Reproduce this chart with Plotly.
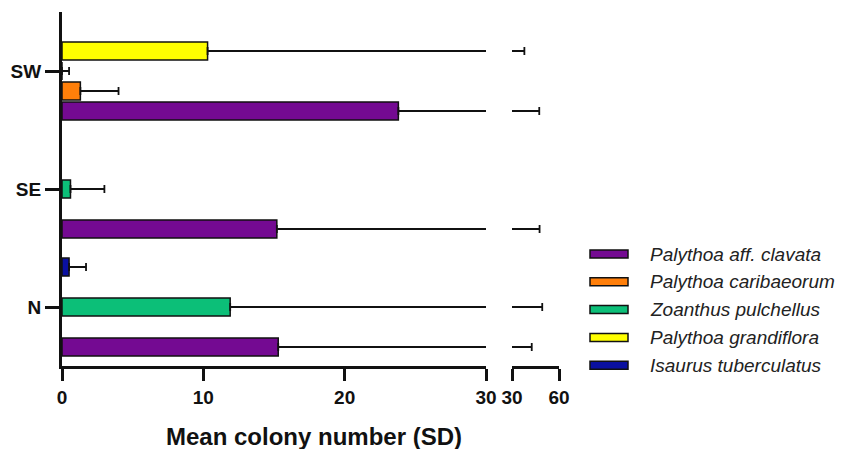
import plotly.graph_objects as go

sites = ["N", "SE", "SW"]
species = ["Palythoa aff. clavata", "Palythoa caribaeorum", "Zoanthus pulchellus",
           "Palythoa grandiflora", "Isaurus tuberculatus"]
colors = ["#740A92", "#FF7F0A", "#0CBF78", "#FFFF00", "#0A10A0"]

# mean colony number per site (N, SE, SW); None = not recorded
clavata_mean = [15.3, 15.2, 23.8]
clavata_sd = [27.3, 32.4, 23.6]
caribaeorum_mean = [None, None, 1.3]
caribaeorum_sd = [None, None, 2.7]
pulchellus_mean = [11.9, 0.6, 0.0]
pulchellus_sd = [37.4, 2.4, 0.5]
grandiflora_mean = [None, None, 10.3]
grandiflora_sd = [None, None, 27.6]
isaurus_mean = [0.5, None, None]
isaurus_sd = [1.2, None, None]

means = [clavata_mean, caribaeorum_mean, pulchellus_mean, grandiflora_mean, isaurus_mean]
sds = [clavata_sd, caribaeorum_sd, pulchellus_sd, grandiflora_sd, isaurus_sd]

x_ticks_left = [0, 10, 20, 30]
x_ticks_right = [30, 60]

W, H = 842, 449
FONT = "Liberation Sans, Arial, sans-serif"
INK = "#111111"

fig = go.Figure()
for xa in ["x", "x2"]:
    for name, col, m, s in zip(species, colors, means, sds):
        fig.add_trace(go.Bar(
            y=sites, x=m, orientation="h", name=name,
            marker=dict(color=col, line=dict(color=INK, width=1.5)),
            error_x=dict(type="data", array=[v if v is not None else 0 for v in s],
                         arrayminus=[0, 0, 0], symmetric=False,
                         color=INK, thickness=1.8, width=4),
            xaxis=xa, yaxis="y", showlegend=False,
        ))

axis_common = dict(showline=True, linecolor=INK, linewidth=3, ticks="outside",
                   ticklen=12, tickwidth=3, tickcolor=INK, showgrid=False,
                   zeroline=False, automargin=False,
                   tickfont=dict(family=FONT, size=19, color=INK, weight="bold"))

fig.update_layout(
    width=W, height=H, margin=dict(l=0, r=0, t=0, b=0),
    paper_bgcolor="white", plot_bgcolor="white",
    barmode="group", bargap=0.153, bargroupgap=0.1,
    showlegend=False,
    xaxis=dict(domain=[62 / W, 486 / W], range=[0, 30], tickvals=x_ticks_left,
               anchor="y", **axis_common),
    xaxis2=dict(domain=[512 / W, 559 / W], range=[30, 60], tickvals=x_ticks_right,
                anchor="y", **axis_common),
    yaxis=dict(domain=[1 - 366 / H, 1 - 12 / H], range=[-0.5, 2.5], type="category",
               categoryorder="array", categoryarray=sites, anchor="x",
               showline=True, linecolor=INK, linewidth=3, ticks="outside",
               ticklen=14, tickwidth=3, tickcolor=INK, showgrid=False,
               zeroline=False, automargin=False,
               tickfont=dict(family=FONT, size=19, color=INK, weight="bold")),
)

# axis title spanning both segments
fig.add_annotation(text="Mean colony number (SD)", x=314 / W, y=1 - 436 / H,
                   xref="paper", yref="paper", showarrow=False,
                   xanchor="center", yanchor="middle",
                   font=dict(family=FONT, size=24, color=INK, weight="bold"))

# custom legend with wide bar swatches
for i, (name, col) in enumerate(zip(species, colors)):
    yc = 254 + 27.8 * i
    fig.add_shape(type="rect", xref="paper", yref="paper",
                  x0=590 / W, x1=628 / W, y0=1 - (yc + 4) / H, y1=1 - (yc - 4) / H,
                  fillcolor=col, line=dict(color=INK, width=1.5))
    fig.add_annotation(text=name, x=648 / W, y=1 - yc / H, xref="paper", yref="paper",
                       showarrow=False, xanchor="left", yanchor="middle",
                       font=dict(family=FONT, size=19, color="#222222", style="italic"))

fig.write_html("out.html")
